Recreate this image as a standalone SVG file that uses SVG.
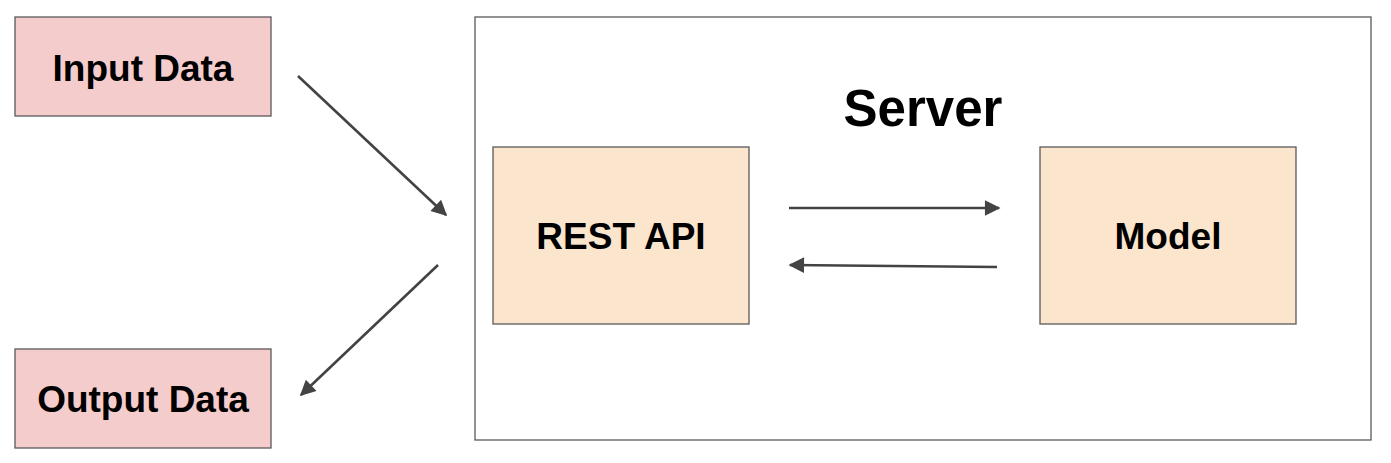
<svg xmlns="http://www.w3.org/2000/svg" width="1391" height="463" viewBox="0 0 1391 463">
<style>
.box{stroke:#595959;stroke-width:1.3}
.pink{fill:#f4cccc}
.peach{fill:#fce5cd}
.lbl{font-family:"Liberation Sans",Arial,sans-serif;font-weight:bold;font-size:37px;fill:#000;text-anchor:middle}
.conn{stroke:#434343;stroke-width:2.6;fill:none;marker-end:url(#ah)}
</style>
<defs>
<marker id="ah" viewBox="0 0 10 10" refX="9" refY="5" markerWidth="7" markerHeight="6" markerUnits="strokeWidth" orient="auto">
<path d="M0,0 L10,5 L0,10 z" fill="#434343"/>
</marker>
</defs>
<rect width="1391" height="463" fill="#fff"/>
<g id="server">
<rect x="475" y="17" width="896" height="423" fill="#fff" class="box"/>
<text x="923" y="126" class="lbl" style="font-size:51px">Server</text>
</g>
<g id="input">
<rect x="15" y="17" width="256" height="99" class="box pink"/>
<text x="143" y="81" class="lbl">Input Data</text>
</g>
<g id="output">
<rect x="15" y="349" width="256" height="99" class="box pink"/>
<text x="143" y="412" class="lbl">Output Data</text>
</g>
<g id="restapi">
<rect x="493" y="147" width="256" height="177" class="box peach"/>
<text x="621" y="249" class="lbl">REST API</text>
</g>
<g id="model">
<rect x="1040" y="147" width="256" height="177" class="box peach"/>
<text x="1168" y="249" class="lbl">Model</text>
</g>
<g id="connectors">
<line x1="298" y1="76" x2="446" y2="215" class="conn"/>
<line x1="438" y1="265" x2="301" y2="395" class="conn"/>
<line x1="789" y1="208" x2="999" y2="208" class="conn"/>
<line x1="997" y1="267" x2="790" y2="265" class="conn"/>
</g>
</svg>
